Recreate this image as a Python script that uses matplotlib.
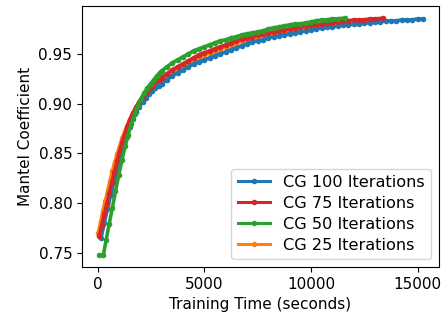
import matplotlib
matplotlib.use("Agg")
import matplotlib.pyplot as plt

# CG 100 Iterations (blue)
t100 = [150, 300, 450, 600, 750, 900, 1050, 1200, 1350, 1500, 1650, 1800, 1950, 2100, 2250,
        2400, 2550, 2700, 2850,
        3000, 3250, 3500, 3750, 4000, 4250, 4500, 4750, 5000, 5250, 5500, 5750, 6000, 6250,
        6500, 6750, 7000, 7250, 7500, 7750, 8000, 8250, 8500, 8750, 9000, 9250, 9500, 9750,
        10000, 10250, 10500, 10750, 11000, 11250, 11500, 11750, 12000, 12250, 12500, 12750,
        13000, 13250, 13500, 13750, 14000, 14250, 14500, 14750, 15000, 15240]
v100 = [.765, .780, .794, .808, .821, .833, .844, .856, .867, .877, .885, .892, .897, .902, .906,
        .910, .913, .916, .918,
        .920, .924, .928, .931, .934, .937, .940, .942, .944, .946, .948, .950, .952, .954,
        .956, .958, .960, .962, .963, .964, .966, .967, .968, .969, .970, .971, .972, .973,
        .974, .975, .976, .977, .977, .978, .979, .979, .980, .980, .981, .981,
        .982, .982, .983, .983, .983, .984, .984, .984, .985, .985]

# CG 75 Iterations (red)
t75 = [60, 180, 300, 420, 540, 660, 780, 900, 1020, 1140, 1260, 1380, 1500, 1650, 1800, 1950,
       2100, 2250, 2400, 2550, 2700, 2850,
       3000, 3250, 3500, 3750, 4000, 4250, 4500, 4750, 5000, 5250, 5500, 5750, 6000, 6250,
       6500, 6750, 7000, 7250, 7500, 7750, 8000, 8250, 8500, 8750, 9000, 9250, 9500, 9750,
       10000, 10250, 10500, 10750, 11000, 11250, 11500, 11750, 12000, 12250, 12500, 12750,
       13000, 13360]
v75 = [.767, .777, .789, .799, .810, .821, .831, .842, .852, .861, .869, .877, .884, .891, .897, .902,
       .907, .911, .915, .918, .922, .924,
       .926, .930, .934, .937, .940, .943, .946, .949, .951, .953, .955, .957, .959, .961,
       .963, .965, .966, .967, .969, .970, .971, .972, .973, .974, .975, .976, .977, .978,
       .979, .979, .980, .981, .981, .982, .983, .983, .984, .984, .984, .985,
       .985, .9856]

# CG 50 Iterations (green)
t50 = [75, 260, 390, 530, 680, 830, 980, 1130, 1280, 1430, 1580, 1730, 1880, 2030, 2180, 2330,
       2480, 2630, 2780, 2900,
       3000, 3250, 3500, 3750, 4000, 4250, 4500, 4750, 5000, 5250, 5500, 5750, 6000, 6250,
       6500, 6750, 7000, 7250, 7500, 7750, 8000, 8250, 8500, 8750, 9000, 9250, 9500, 9750,
       10000, 10250, 10500, 10750, 11000, 11250, 11610]
v50 = [.748, .748, .763, .779, .795, .812, .828, .843, .857, .869, .880, .890, .898, .905, .911, .916,
       .920, .924, .928, .931,
       .933, .937, .941, .944, .947, .950, .953, .955, .957, .959, .961, .963, .964, .966,
       .967, .969, .970, .971, .972, .973, .975, .976, .977, .978, .979, .980, .980, .981,
       .982, .983, .984, .984, .985, .985, .986]

# CG 25 Iterations (orange)
t25 = [20, 130, 240, 350, 460, 570, 680, 790, 900, 1020, 1140, 1260, 1380, 1500, 1650, 1800,
       1950, 2100, 2250, 2400, 2550, 2700, 2850,
       3000, 3250, 3500, 3750, 4000, 4250, 4500, 4750, 5000, 5250, 5500, 5750, 6000, 6250,
       6500, 6750, 7000, 7250, 7500, 7750, 8000, 8250, 8500, 8750, 9000, 9250, 9500, 9750,
       10000, 10250, 10500, 10750, 11000, 11250, 11500, 11750]
v25 = [.770, .781, .792, .802, .812, .822, .832, .841, .849, .857, .865, .872, .878, .884, .890, .896,
       .901, .905, .909, .913, .916, .920, .922,
       .924, .928, .932, .935, .938, .941, .944, .947, .949, .951, .953, .955, .957, .959,
       .961, .963, .964, .965, .967, .968, .969, .970, .971, .972, .973, .974, .975, .976,
       .977, .977, .978, .979, .979, .980, .981, .981]

labels = ["CG 100 Iterations", "CG 75 Iterations", "CG 50 Iterations", "CG 25 Iterations"]
colors = ["#1f77b4", "#d62728", "#2ca02c", "#ff7f0e"]

fig = plt.figure(figsize=(4.43, 3.2), dpi=100)
ax = fig.add_axes([82/443, 1-267/320, (439-82)/443, (267-6)/320])

style = dict(marker='.', markersize=6, linewidth=2.6)
l25, = ax.plot(t25, v25, color=colors[3], zorder=1, **style)
l100, = ax.plot(t100, v100, color=colors[0], zorder=2, **style)
l75, = ax.plot(t75, v75, color=colors[1], zorder=3, **style)
l50, = ax.plot(t50, v50, color=colors[2], zorder=4, **style)

ax.set_xticks([0, 5000, 10000, 15000])
ax.set_yticks([0.75, 0.80, 0.85, 0.90, 0.95])
ax.set_yticklabels(["0.75", "0.80", "0.85", "0.90", "0.95"])
ax.tick_params(labelsize=11)
ax.set_xlabel("Training Time (seconds)", fontsize=11)
ax.set_ylabel("Mantel Coefficient", fontsize=11)
leg = ax.legend([l100, l75, l50, l25], labels, loc="lower right", fontsize=11.6,
                labelspacing=0.36, borderaxespad=0.5)
for h in leg.get_lines():
    h.set_linewidth(2.2)

fig.savefig("out.png", dpi=100)
